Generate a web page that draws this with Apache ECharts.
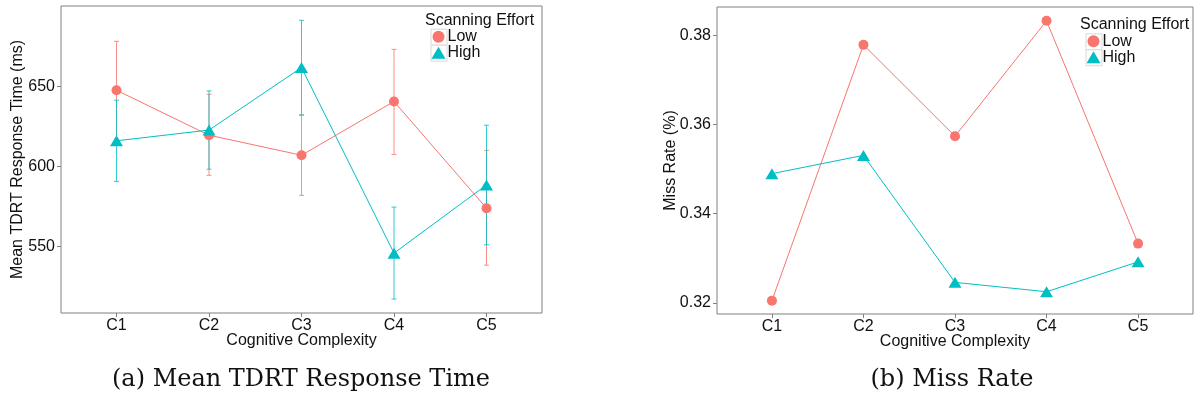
<!DOCTYPE html>
<html>
<head>
<meta charset="utf-8">
<script src="https://cdn.jsdelivr.net/npm/echarts@6/dist/echarts.min.js"></script>
<style>
  html, body { margin: 0; padding: 0; background: #fff; }
  #chart { width: 1196px; height: 407px; }
</style>
</head>
<body>
<div id="chart"></div>
<script>
// categories on both x axes
var categories = ['C1', 'C2', 'C3', 'C4', 'C5'];

// (a) mean TDRT response time, ms
var rtLow = [647.5, 619.5, 607, 640.5, 574];
var rtLowUpper = [678, 645, 632, 673, 610];
var rtLowLower = [617, 594.5, 582, 607.5, 538.5];
var rtHigh = [616, 622.7, 661.6, 546, 588.5];
var rtHighUpper = [641.3, 647.1, 691.1, 574.7, 625.7];
var rtHighLower = [590.7, 598.3, 632.1, 517.4, 551.2];
var rtTicks = [550, 600, 650];

// (b) miss rate
var missLow = [0.3205, 0.3779, 0.3574, 0.3833, 0.3333];
var missHigh = [0.349, 0.3531, 0.3246, 0.3225, 0.3292];
var missTicks = [0.32, 0.34, 0.36, 0.38];

var RED = '#F8766D';
var TEAL = '#00BFC4';
var FONT = '"Liberation Sans", Arial, sans-serif';

function toPoints(values) {
    return values.map(function (v, i) { return [i + 1, v]; });
}

function toBars(lower, upper) {
    return lower.map(function (v, i) { return [i + 1, v, upper[i]]; });
}

// vertical error bar with small caps
function renderErrorBar(params, api) {
    var x = api.value(0);
    var lo = api.coord([x, api.value(1)]);
    var hi = api.coord([x, api.value(2)]);
    var half = 2.5;
    var style = { stroke: api.visual('color'), lineWidth: 1, opacity: 0.8 };
    return {
        type: 'group',
        children: [
            { type: 'line', shape: { x1: lo[0], y1: lo[1], x2: hi[0], y2: hi[1] }, style: style },
            { type: 'line', shape: { x1: lo[0] - half, y1: lo[1], x2: lo[0] + half, y2: lo[1] }, style: style },
            { type: 'line', shape: { x1: hi[0] - half, y1: hi[1], x2: hi[0] + half, y2: hi[1] }, style: style }
        ]
    };
}

function xAxisFor(gridIndex) {
    return {
        type: 'value',
        gridIndex: gridIndex,
        min: 0.4,
        max: 5.6,
        name: 'Cognitive Complexity',
        nameLocation: 'middle',
        nameGap: 20,
        nameMoveOverlap: false,
        nameTextStyle: { fontFamily: FONT, fontSize: 16, color: '#111' },
        axisLine: { show: false },
        splitLine: { show: false },
        axisTick: { show: true, length: 4, customValues: [1, 2, 3, 4, 5], lineStyle: { color: '#808080' } },
        axisLabel: {
            customValues: [1, 2, 3, 4, 5],
            margin: 5,
            fontFamily: FONT,
            fontSize: 16,
            color: '#111',
            formatter: function (v) { return categories[Math.round(v) - 1]; }
        }
    };
}

function yAxisFor(gridIndex, min, max, ticks, title, gap, digits) {
    return {
        type: 'value',
        gridIndex: gridIndex,
        min: min,
        max: max,
        name: title,
        nameLocation: 'middle',
        nameRotate: 90,
        nameGap: gap,
        nameMoveOverlap: false,
        nameTextStyle: { fontFamily: FONT, fontSize: 16, color: '#111' },
        axisLine: { show: false },
        splitLine: { show: false },
        axisTick: { show: true, length: 4, customValues: ticks, lineStyle: { color: '#808080' } },
        axisLabel: {
            customValues: ticks,
            margin: 6,
            fontFamily: FONT,
            fontSize: 16,
            color: '#111',
            formatter: function (v) { return v.toFixed(digits); }
        }
    };
}

function lineSeries(name, values, idx, color, symbol, size) {
    return {
        name: name,
        type: 'line',
        xAxisIndex: idx,
        yAxisIndex: idx,
        data: toPoints(values),
        symbol: symbol,
        symbolSize: size,
        color: color,
        lineStyle: { width: 1, color: color },
        itemStyle: { color: color, opacity: 1 },
        z: 3
    };
}

function legendFor(left, top) {
    return {
        orient: 'vertical',
        left: left,
        top: top,
        padding: 0,
        itemWidth: 14,
        itemHeight: 12,
        itemGap: 0,
        selectedMode: false,
        textStyle: { fontFamily: FONT, fontSize: 16, color: '#111', padding: [0, 0, 0, -3] },
        data: [
            { name: 'Low', icon: 'circle' },
            { name: 'High', icon: 'triangle' }
        ]
    };
}

function keyBoxes(x, y) {
    var boxStyle = { fill: '#fff', stroke: '#d9d9d9', lineWidth: 1 };
    return [
        { type: 'rect', left: x, top: y, shape: { width: 16, height: 16 }, style: boxStyle, z: 1 },
        { type: 'rect', left: x, top: y + 16, shape: { width: 16, height: 16 }, style: boxStyle, z: 1 }
    ];
}

var myChart = echarts.init(document.getElementById('chart'), null, { renderer: 'canvas' });

var option = {
    animation: false,
    backgroundColor: '#fff',
    grid: [
        { left: 61, top: 6, width: 481, height: 307, show: true, borderColor: '#808080', borderWidth: 1, backgroundColor: 'transparent' },
        { left: 717, top: 7, width: 476, height: 307, show: true, borderColor: '#808080', borderWidth: 1, backgroundColor: 'transparent' }
    ],
    xAxis: [xAxisFor(0), xAxisFor(1)],
    yAxis: [
        yAxisFor(0, 508.7, 700, rtTicks, 'Mean TDRT Response Time (ms)', 35, 0),
        yAxisFor(1, 0.3175, 0.3864, missTicks, 'Miss Rate (%)', 38, 2)
    ],
    legend: [legendFor(431.5, 28.7), legendFor(1086.5, 33.3)],
    graphic: [].concat(
        keyBoxes(430.5, 28.7),
        keyBoxes(1085.5, 33.3),
        [
            { type: 'text', left: 425, top: 13, style: { text: 'Scanning Effort', font: '16px ' + FONT, fill: '#111' } },
            { type: 'text', left: 1080, top: 17, style: { text: 'Scanning Effort', font: '16px ' + FONT, fill: '#111' } },
            { type: 'text', x: 301, y: 380, style: { text: '(a) Mean TDRT Response Time', font: '24px "DejaVu Serif", serif', fill: '#111', align: 'center', verticalAlign: 'middle' } },
            { type: 'text', x: 952, y: 380, style: { text: '(b) Miss Rate', font: '24px "DejaVu Serif", serif', fill: '#111', align: 'center', verticalAlign: 'middle' } }
        ]
    ),
    series: [
        { name: 'Low', type: 'custom', xAxisIndex: 0, yAxisIndex: 0, renderItem: renderErrorBar, data: toBars(rtLowLower, rtLowUpper), itemStyle: { color: RED }, z: 2 },
        { name: 'High', type: 'custom', xAxisIndex: 0, yAxisIndex: 0, renderItem: renderErrorBar, data: toBars(rtHighLower, rtHighUpper), itemStyle: { color: TEAL }, z: 2 },
        lineSeries('Low', rtLow, 0, RED, 'circle', 10),
        lineSeries('High', rtHigh, 0, TEAL, 'triangle', [13, 11]),
        lineSeries('Low', missLow, 1, RED, 'circle', 10),
        lineSeries('High', missHigh, 1, TEAL, 'triangle', [13, 11])
    ]
};

myChart.setOption(option);
</script>
</body>
</html>
